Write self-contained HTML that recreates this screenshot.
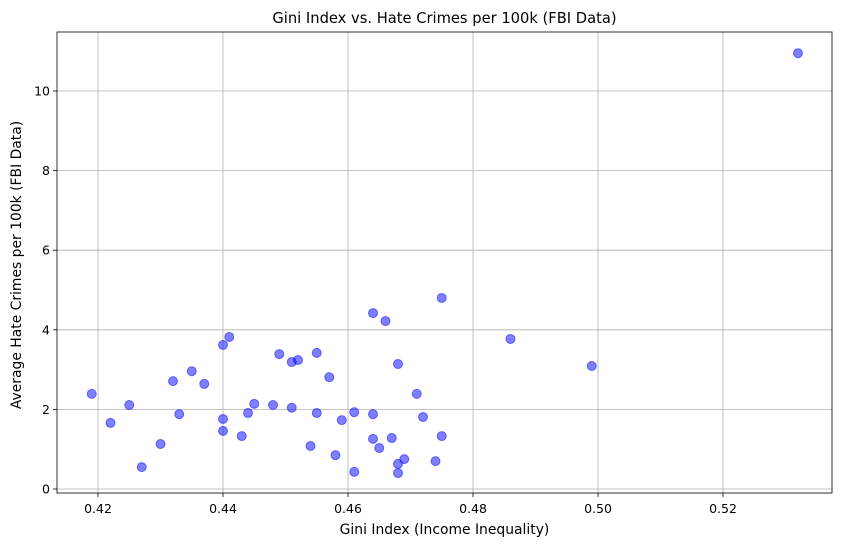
<!DOCTYPE html>
<html><head><meta charset="utf-8"><style>
body{margin:0;background:#fff;font-family:"DejaVu Sans",sans-serif;}
svg text{font-family:"DejaVu Sans",sans-serif;fill:#000;}
</style></head><body>
<svg id="chart" width="841" height="547">
<rect width="841" height="547" fill="#fff"/>
<text x="444.5" y="23" font-size="14.7" text-anchor="middle">Gini Index vs. Hate Crimes per 100k (FBI Data)</text>
<g id="grid"></g><g id="pts"></g><g id="axes"></g>
<text x="444.5" y="534" font-size="13.9" text-anchor="middle">Gini Index (Income Inequality)</text>
<text transform="translate(21,265) rotate(-90)" font-size="13.9" text-anchor="middle">Average Hate Crimes per 100k (FBI Data)</text>
</svg>
<script>
const giniValues=[0.419,0.422,0.425,0.427,0.430,0.432,0.433,0.435,0.437,0.440,0.441,0.440,0.440,0.443,0.444,0.445,0.448,0.449,0.451,0.451,0.452,0.454,0.455,0.455,0.457,0.458,0.459,0.461,0.461,0.464,0.464,0.464,0.465,0.466,0.467,0.468,0.468,0.468,0.469,0.471,0.472,0.474,0.475,0.475,0.486,0.499,0.532];
const hateValues=[2.39,1.66,2.11,0.55,1.13,2.71,1.88,2.96,2.64,3.62,3.82,1.76,1.46,1.33,1.91,2.14,2.11,3.39,3.19,2.04,3.24,1.08,3.42,1.91,2.81,0.85,1.73,1.93,0.43,4.42,1.88,1.26,1.03,4.22,1.28,3.14,0.63,0.40,0.75,2.39,1.81,0.70,4.80,1.33,3.77,3.09,10.95];
const xTicks=[0.42,0.44,0.46,0.48,0.50,0.52];
const yTicks=[0,2,4,6,8,10];
const L=57,R=832,T=32,B=493;
const x=v=>98+(v-0.42)*6250;
const y=v=>489-v*39.8;
const NS="http://www.w3.org/2000/svg";
function mk(tag,attrs,parent,txt){const e=document.createElementNS(NS,tag);for(const k in attrs)e.setAttribute(k,attrs[k]);if(txt!=null)e.textContent=txt;parent.appendChild(e);return e;}
const grid=document.getElementById('grid'),axes=document.getElementById('axes'),pts=document.getElementById('pts');
xTicks.forEach(t=>{const px=x(t);
const g=mk('line',{x1:px,x2:px,y1:T,y2:B,stroke:'#b0b0b0','stroke-width':0.8},grid);


mk('line',{x1:px,x2:px,y1:B,y2:B+4,stroke:'#000','stroke-width':0.8},axes);
const l=mk('text',{x:px,y:B+20,'font-size':12.5,'text-anchor':'middle'},axes,t.toFixed(2));

});
yTicks.forEach(t=>{const py=y(t);
const g=mk('line',{x1:L,x2:R,y1:py,y2:py,stroke:'#b0b0b0','stroke-width':0.8},grid);


mk('line',{x1:L-4,x2:L,y1:py,y2:py,stroke:'#000','stroke-width':0.8},axes);
const l=mk('text',{x:L-7,y:py+4.5,'font-size':12.5,'text-anchor':'end'},axes,String(t));

});
const fr=mk('rect',{x:L,y:T,width:R-L,height:B-T,fill:'none',stroke:'#000','stroke-width':0.8},axes);


giniValues.forEach((g,i)=>{const c=mk('circle',{cx:x(g),cy:y(hateValues[i]),r:4.5,fill:'rgba(0,0,255,0.5)',stroke:'rgba(0,0,255,0.5)','stroke-width':1},pts);

});
</script>
</body></html>
